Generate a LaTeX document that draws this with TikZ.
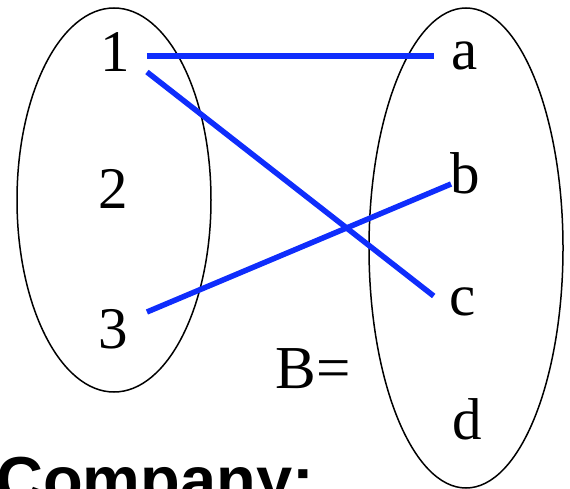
\documentclass[tikz,border=0pt]{standalone}
\usepackage{fontspec}
\setmainfont{Liberation Serif}
\setsansfont{Liberation Sans}
\usetikzlibrary{calc}
\usepackage{xcolor}
\definecolor{linkblue}{RGB}{15,45,252}
\definecolor{inkblack}{RGB}{0,0,0}

\tikzset{
  elem/.style={inner sep=0pt,text=inkblack,font=\fontsize{59}{62}\selectfont\rmfamily},
  link/.style={linkblue,line width=5.5pt},
  setoval/.style={inkblack,line width=1.5pt}
}

\begin{document}
\begin{tikzpicture}[x=1pt,y=-1pt]

  % ── FRAME ──────────────────────────────────────────────────────────────────
  \useasboundingbox (0,0) rectangle (570,489);

  % ── THE TWO SETS ───────────────────────────────────────────────────────────
  \draw[setoval] (114,200) ellipse [x radius=97,y radius=192];
  \draw[setoval] (466,248) ellipse [x radius=97,y radius=240];

  % left set elements
  \node[elem] (n1) at (115,52)  {1};
  \node[elem] (n2) at (113,189) {2};
  \node[elem] (n3) at (113,329) {3};

  % right set elements
  \node[elem] (na) at (465,56)  {a};
  \node[elem] (nb) at (465,173) {b};
  \node[elem] (nc) at (463,302) {c};
  \node[elem] (nd) at (467,419) {d};

  \node[elem,font=\fontsize{61}{64}\selectfont\rmfamily]
    (bset) at (313.5,369) {B=};

  % ── MAPPING ────────────────────────────────────────────────────────────────
  \draw[link] ($(n1.east)+(17,4)$)  -- ($(na.west)+(-18,0)$);
  \draw[link] ($(n1.east)+(17,20)$) -- ($(nc.west)+(-16,-6)$);
  \draw[link] ($(n3.east)+(19,-17)$) -- ($(nb.west)+(1,11)$);

  % ── CAPTION (cut by the frame) ─────────────────────────────────────────────
  \node[anchor=base west,inner sep=0pt,text=inkblack,
        font=\fontsize{65}{70}\selectfont\sffamily\bfseries]
    (caption) at (-4,502) {Company:};

\end{tikzpicture}
\end{document}
